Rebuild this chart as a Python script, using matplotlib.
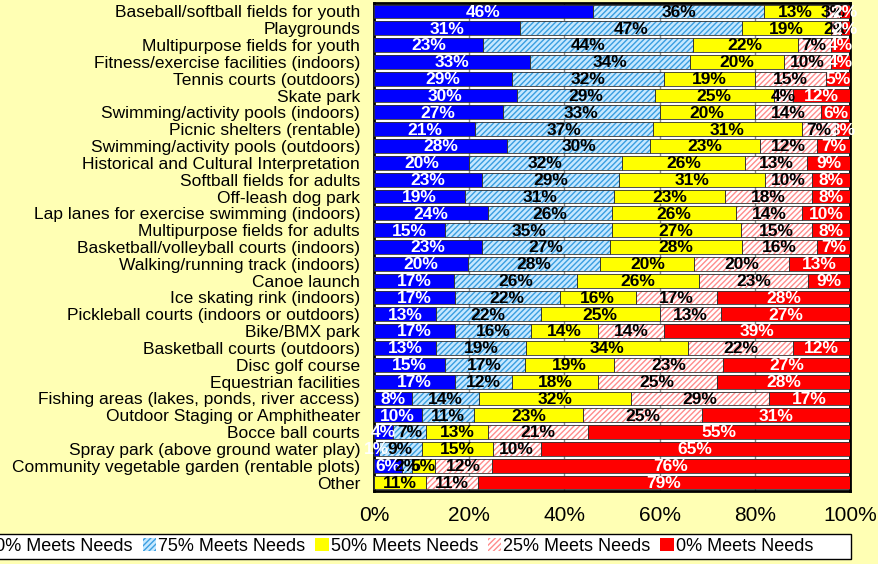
import numpy as np
import matplotlib.pyplot as plt
from matplotlib.patches import Patch, Rectangle

plt.rcParams['font.family'] = ['Liberation Sans', 'DejaVu Sans']
plt.rcParams['hatch.linewidth'] = 1.0

categories = [
    "Baseball/softball fields for youth", "Playgrounds", "Multipurpose fields for youth",
    "Fitness/exercise facilities (indoors)", "Tennis courts (outdoors)", "Skate park",
    "Swimming/activity pools (indoors)", "Picnic shelters (rentable)",
    "Swimming/activity pools (outdoors)", "Historical and Cultural Interpretation",
    "Softball fields for adults", "Off-leash dog park", "Lap lanes for exercise swimming (indoors)",
    "Multipurpose fields for adults", "Basketball/volleyball courts (indoors)",
    "Walking/running track (indoors)", "Canoe launch", "Ice skating rink (indoors)",
    "Pickleball courts (indoors or outdoors)", "Bike/BMX park", "Basketball courts (outdoors)",
    "Disc golf course", "Equestrian facilities", "Fishing areas (lakes, ponds, river access)",
    "Outdoor Staging or Amphitheater", "Bocce ball courts", "Spray park (above ground water play)",
    "Community vegetable garden (rentable plots)", "Other",
]
meets_100 = [46, 31, 23, 33, 29, 30, 27, 21, 28, 20, 23, 19, 24, 15, 23, 20, 17, 17, 13, 17, 13, 15, 17, 8, 10, 4, 1, 6, 0]
meets_75 = [36, 47, 44, 34, 32, 29, 33, 37, 30, 32, 29, 31, 26, 35, 27, 28, 26, 22, 22, 16, 19, 17, 12, 14, 11, 7, 9, 2, 0]
meets_50 = [13, 19, 22, 20, 19, 25, 20, 31, 23, 26, 31, 23, 26, 27, 28, 20, 26, 16, 25, 14, 34, 19, 18, 32, 23, 13, 15, 5, 11]
meets_25 = [3, 2, 7, 10, 15, 4, 14, 7, 12, 13, 10, 18, 14, 15, 16, 20, 23, 17, 13, 14, 22, 23, 25, 29, 25, 21, 10, 12, 11]
meets_0 = [2, 2, 4, 4, 5, 12, 6, 3, 7, 9, 8, 8, 10, 8, 7, 13, 9, 28, 27, 39, 12, 27, 28, 17, 31, 55, 65, 76, 79]
series_names = ["100% Meets Needs", "75% Meets Needs", "50% Meets Needs", "25% Meets Needs", "0% Meets Needs"]

series = np.array([meets_100, meets_75, meets_50, meets_25, meets_0], dtype=float)
shares = series / series.sum(axis=0) * 100

styles = [
    dict(color="#0000FF", hatch=None, text="white"),
    dict(color="#C6E8FF", hatch="//////", hc="#3A9EE0", text="black"),
    dict(color="#FFFF00", hatch=None, text="black"),
    dict(color="white", hatch="//////", hc="#FF8C8C", text="black"),
    dict(color="#FF0000", hatch=None, text="white"),
]

fig = plt.figure(figsize=(8.79, 5.64), dpi=100, facecolor="#FFFFB4")
ax = fig.add_axes([374 / 879, 1 - 491 / 564, 476 / 879, 488 / 564])
ax.set_facecolor("white")

y = np.arange(len(categories))
left = np.zeros(len(categories))
handles = []
for vals, raw, st, name in zip(shares, series, styles, series_names):
    ax.barh(y, vals, left=left, height=0.82, color=st["color"],
            edgecolor=st.get("hc", "#333333"), linewidth=0, hatch=st["hatch"], zorder=3)
    ax.barh(y, vals, left=left, height=0.82, color="none", edgecolor="#333333",
            linewidth=0.6, zorder=4)
    handles.append(Patch(facecolor=st["color"], hatch=st["hatch"],
                         edgecolor=st.get("hc", "black"), linewidth=0))
    for yi, l, v, r in zip(y, left, vals, raw):
        if r > 0:
            ax.text(l + v / 2, yi + 0.05, f"{int(r)}%", ha="center", va="center",
                    color=st["text"], fontsize=12.5, fontweight="bold", zorder=5)
    left += vals

ax.set_xlim(0, 100)
ax.set_ylim(len(categories) - 0.5, -0.5)
ax.set_yticks(y)
ax.set_yticklabels(categories, fontsize=12.5)
ax.tick_params(axis="y", length=0, pad=10)
ax.set_xticks([0, 20, 40, 60, 80, 100])
ax.set_xticklabels(["0%", "20%", "40%", "60%", "80%", "100%"], fontsize=15)
ax.tick_params(axis="x", length=0, pad=11)
ax.grid(axis="x", color="#888888", linewidth=1, zorder=0)
for s in ax.spines.values():
    s.set_linewidth(2)
    s.set_color("black")

# legend box runs off the left edge, as in the original
fig.patches.append(Rectangle((-10 / 879, 5 / 564), 861 / 879, 25 / 564,
                             transform=fig.transFigure, facecolor="white",
                             edgecolor="black", linewidth=1, zorder=1))
leg = fig.legend(handles=handles, labels=series_names, loc="center left",
                 bbox_to_anchor=(-40 / 879, 17.5 / 564), ncol=5, fontsize=13,
                 handlelength=0.75, handleheight=0.7, handletextpad=0.1,
                 columnspacing=0.55, frameon=False, borderpad=0, borderaxespad=0)
leg.set_zorder(2)

fig.savefig("out.png", dpi=100, facecolor=fig.get_facecolor())
